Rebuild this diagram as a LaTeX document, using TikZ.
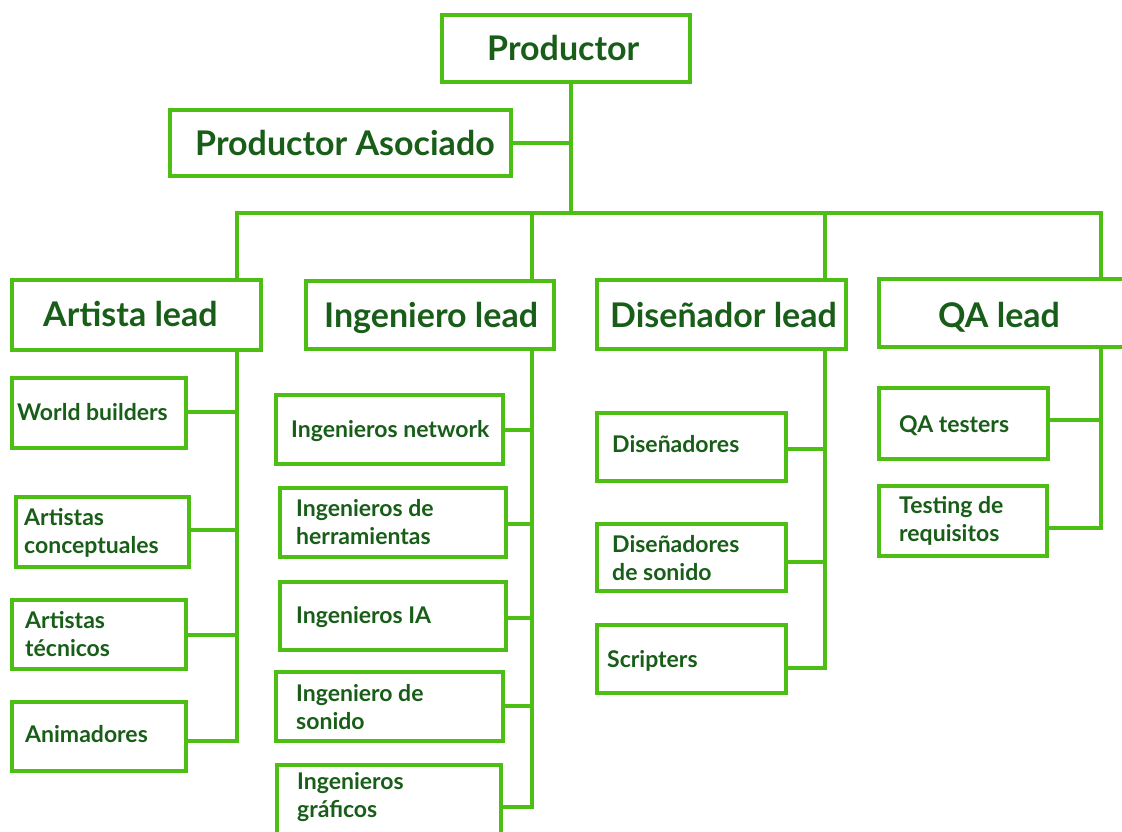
\documentclass[tikz,border=0pt]{standalone}
\usepackage{fontspec}
\setmainfont{Lato}
\definecolor{bord}{RGB}{76,190,20}
\definecolor{txt}{RGB}{24,94,24}
\newcommand\mybox[5]{\node[bx, minimum width={(#4)-(#2)}, minimum height={(#5)-(#3)}] (#1) at ({((#2)+(#4))/2},{((#3)+(#5))/2}) {};}
\tikzset{
  bx/.style={draw=bord, line width=4pt, fill=white, inner sep=0pt, rectangle},
  big/.style={font=\fontsize{34}{40}\selectfont\bfseries, text=txt, inner sep=0pt, anchor=base west},
  sm/.style={font=\fontsize{23}{27.5}\selectfont\bfseries, text=txt, inner sep=0pt, anchor=base west, align=left},
  ln/.style={draw=bord, line width=4pt, line join=miter}
}
\begin{document}
\begin{tikzpicture}[x=1pt,y=-1pt]
\useasboundingbox (0,0) rectangle (1122,831);
\fill[white] (0,0) rectangle (1122,831);
% junction coordinates
\coordinate (top) at (571,213);
\coordinate (bA) at (237,213);
\coordinate (bI) at (532,213);
\coordinate (bD) at (825,213);
\coordinate (bQ) at (1101,213);
% boxes
\mybox{prod}{442}{15}{690}{82}
\mybox{asoc}{170}{110}{511}{176}
\mybox{al}{12}{280}{261}{350}
\mybox{il}{306}{281}{554}{349}
\mybox{dl}{597}{280}{846}{349}
\mybox{ql}{879}{279}{1140}{347}
\mybox{wb}{12}{378}{186}{448}
\mybox{ac}{16}{497}{189}{567}
\mybox{at}{12}{600}{186}{669}
\mybox{an}{12}{702}{186}{771}
\mybox{inw}{276}{395}{503}{464}
\mybox{ih}{280}{488}{506}{557}
\mybox{ia}{280}{582}{506}{650}
\mybox{iso}{276}{672}{503}{741}
\mybox{ig}{277}{765}{501}{850}
\mybox{di}{597}{413}{786}{481}
\mybox{ds}{597}{524}{786}{591}
\mybox{sc}{597}{625}{786}{693}
\mybox{qt}{879}{388}{1048}{459}
\mybox{qr}{879}{486}{1047}{556}
% texts (multi-line nodes: base = last line)
\node[big] (tprod) at (487,60) {Productor};
\node[big] (tasoc) at (195,155) {Productor Asociado};
\node[big] (tal) at (43,326) {Artista lead};
\node[big] (til) at (324,327) {Ingeniero lead};
\node[big] (tdl) at (610,327) {Diseñador lead};
\node[big] (tql) at (938,327) {QA lead};
\node[sm] (twb) at (17,420) {World builders};
\node[sm] (tac) at (24,553) {Artistas\\conceptuales};
\node[sm] (tat) at (25,656) {Artistas\\técnicos};
\node[sm] (tan) at (25,742) {Animadores};
\node[sm] (tinw) at (291,437) {Ingenieros network};
\node[sm] (tih) at (296,544) {Ingenieros de\\herramientas};
\node[sm] (tia) at (296,623) {Ingenieros IA};
\node[sm] (tiso) at (296,729) {Ingeniero de\\sonido};
\node[sm] (tig) at (297,817) {Ingenieros\\gráficos};
\node[sm] (tdi) at (612,452) {Diseñadores};
\node[sm] (tds) at (612,580) {Diseñadores\\de sonido};
\node[sm] (tsc) at (607,667) {Scripters};
\node[sm] (tqt) at (899,432) {QA testers};
\node[sm] (tqr) at (899,541) {Testing de\\requisitos};
% connectors
\draw[ln] (prod.south -| top) -- (top);
\draw[ln] (asoc.east) -- (asoc.east -| top);
\draw[ln] (al.north -| bA) -- (bA) -- (bQ) -- (ql.north -| bQ);
\draw[ln] (bI) -- (il.north -| bI);
\draw[ln] (bD) -- (dl.north -| bD);
% artista
\coordinate (eA) at (237,741);
\draw[ln] (al.south -| eA) -- (eA) -- (an.east |- eA);
\draw[ln] (wb.east |- 0,412) -- (bA |- 0,412);
\draw[ln] (ac.east |- 0,530) -- (bA |- 0,530);
\draw[ln] (at.east |- 0,635) -- (bA |- 0,635);
% ingeniero
\coordinate (eI) at (532,807);
\draw[ln] (il.south -| eI) -- (eI) -- (ig.east |- eI);
\draw[ln] (inw.east |- 0,430) -- (bI |- 0,430);
\draw[ln] (ih.east |- 0,524) -- (bI |- 0,524);
\draw[ln] (ia.east |- 0,618) -- (bI |- 0,618);
\draw[ln] (iso.east |- 0,706) -- (bI |- 0,706);
% disenador
\coordinate (eD) at (825,668);
\draw[ln] (dl.south -| eD) -- (eD) -- (sc.east |- eD);
\draw[ln] (di.east |- 0,449) -- (bD |- 0,449);
\draw[ln] (ds.east |- 0,562) -- (bD |- 0,562);
% QA
\coordinate (eQ) at (1101,528);
\draw[ln] (ql.south -| eQ) -- (eQ) -- (qr.east |- eQ);
\draw[ln] (qt.east |- 0,420) -- (bQ |- 0,420);
\end{tikzpicture}
\end{document}
